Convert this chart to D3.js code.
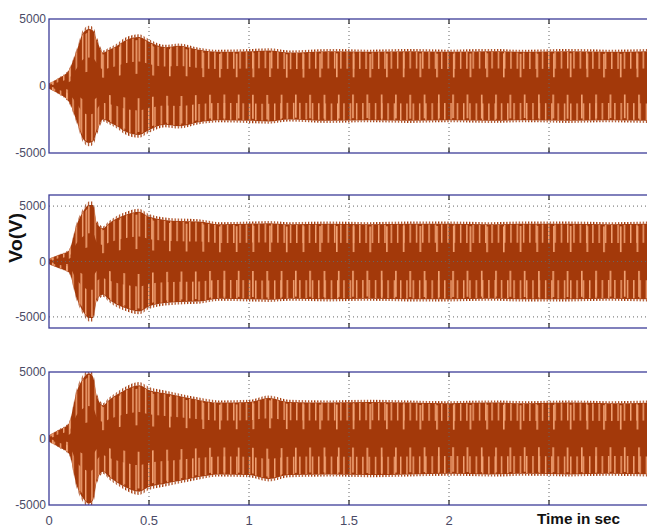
<!DOCTYPE html>
<html>
<head>
<meta charset="utf-8">
<script src="https://cdn.jsdelivr.net/npm/d3@7"></script>
<style>
  body { margin: 0; background: #fff; }
  svg { display: block; }
</style>
</head>
<body>
<div id="chart"></div>
<script>
const times = [0, 0.05, 0.1, 0.14, 0.17, 0.2, 0.22, 0.24, 0.27, 0.3, 0.34, 0.38, 0.45, 0.5, 0.58, 0.65, 0.75, 0.85, 1.0, 1.1, 1.2, 1.4, 1.6, 1.8, 2.0, 2.2, 2.4, 2.6, 2.8, 3.0];
// peak amplitude of Vo (V) for each panel
const env1 = [200, 600, 1200, 2700, 3950, 4250, 4150, 3400, 2500, 2700, 3000, 3400, 3650, 3300, 2900, 3000, 2700, 2550, 2600, 2650, 2500, 2600, 2550, 2600, 2550, 2600, 2550, 2600, 2550, 2600];
const env2 = [250, 600, 1000, 3400, 4500, 5100, 5100, 3450, 3000, 3450, 3900, 4200, 4500, 4050, 3750, 3650, 3600, 3350, 3400, 3450, 3350, 3400, 3350, 3400, 3400, 3350, 3400, 3400, 3350, 3400];
const env3 = [250, 650, 1150, 3600, 4500, 4900, 4650, 3150, 2500, 2900, 3300, 3650, 4000, 3650, 3400, 3200, 2900, 2700, 2750, 3050, 2750, 2700, 2750, 2700, 2650, 2700, 2650, 2700, 2650, 2700];
const xTicks = [0, 0.5, 1, 1.5, 2, 2.5];
const xTickLabels = ["0", "0.5", "1", "1.5", "2", ""];
const yTicks = [-5000, 0, 5000];

const W = 647, H = 528;
const dark = "#a3390a", light = "#f2a476", axisCol = "#3c3c98";

const svg = d3.select("#chart").append("svg")
  .attr("width", W).attr("height", H)
  .style("font-family", "'Liberation Sans Narrow', 'Liberation Sans', Arial, sans-serif");

// streak textures for the aliasing look of the dense oscillation
const defs = svg.append("defs");
function pat(id, w, off, lw, col) {
  const p = defs.append("pattern").attr("id", id)
    .attr("patternUnits", "userSpaceOnUse")
    .attr("width", w).attr("height", 20)
    .attr("patternTransform", "translate(" + off + ",0)");
  p.append("rect").attr("x", 0).attr("y", 0).attr("width", lw).attr("height", 20).attr("fill", col);
}
pat("stA", 6.3, 0, 1.4, light);
pat("stB", 6.3, 3.1, 1.4, light);
pat("stC", 16.7, 2, 1.6, light);
pat("stD", 14.3, 9, 1.6, light);
pat("fr", 3.1, 1, 1.2, dark);

const x = d3.scaleLinear().domain([0, 3]).range([49, 649]);

const panels = [
  { env: env1, dom: [-5000, 5000], range: [153, 19], hgrid: false, xlab: false },
  { env: env2, dom: [-6000, 6000], range: [328, 195], hgrid: true, xlab: false },
  { env: env3, dom: [-5000, 5000], range: [505, 372], hgrid: false, xlab: true }
];

panels.forEach(function (p, i) {
  const y = d3.scaleLinear().domain(p.dom).range(p.range);
  const g = svg.append("g");
  const data = times.map(function (t, k) { return { t: t, a: p.env[k] }; });
  const clipId = "clip" + i;
  defs.append("clipPath").attr("id", clipId).append("rect")
    .attr("x", x(0)).attr("y", p.range[1]).attr("width", x(3) - x(0)).attr("height", p.range[0] - p.range[1]);

  const band = g.append("g").attr("clip-path", "url(#" + clipId + ")");
  function area(lo, hi) {
    return d3.area().curve(d3.curveMonotoneX)
      .x(function (d) { return x(d.t); })
      .y0(function (d) { return y(d.a * lo); })
      .y1(function (d) { return y(d.a * hi); });
  }
  band.append("path").datum(data).attr("d", area(-1, 1)).attr("fill", dark);
  band.append("path").datum(data).attr("d", area(1, 1.06)).attr("fill", "url(#fr)");
  band.append("path").datum(data).attr("d", area(-1.06, -1)).attr("fill", "url(#fr)");
  band.append("path").datum(data).attr("d", area(0.5, 0.98)).attr("fill", "url(#stA)");
  band.append("path").datum(data).attr("d", area(-0.98, -0.5)).attr("fill", "url(#stB)");
  band.append("path").datum(data).attr("d", area(0.25, 0.94)).attr("fill", "url(#stC)");
  band.append("path").datum(data).attr("d", area(-0.94, -0.25)).attr("fill", "url(#stD)");

  // dotted grid
  g.selectAll(".vg").data(xTicks.slice(1)).enter().append("line")
    .attr("x1", function (d) { return x(d); }).attr("x2", function (d) { return x(d); })
    .attr("y1", p.range[1]).attr("y2", p.range[0])
    .attr("stroke", "#666").attr("stroke-width", 1).attr("stroke-dasharray", "1,3");
  if (p.hgrid) {
    g.selectAll(".hg").data(yTicks).enter().append("line")
      .attr("x1", x(0)).attr("x2", W)
      .attr("y1", function (d) { return y(d); }).attr("y2", function (d) { return y(d); })
      .attr("stroke", "#666").attr("stroke-width", 1).attr("stroke-dasharray", "1,3");
  }

  // inward tick marks (top, bottom)
  const tickX = xTicks.slice(1);
  g.selectAll(".tb").data(tickX).enter().append("line")
    .attr("x1", function (d) { return x(d); }).attr("x2", function (d) { return x(d); })
    .attr("y1", p.range[0]).attr("y2", p.range[0] - 5).attr("stroke", "#222").attr("stroke-width", 1.2);
  g.selectAll(".tt").data(tickX).enter().append("line")
    .attr("x1", function (d) { return x(d); }).attr("x2", function (d) { return x(d); })
    .attr("y1", p.range[1]).attr("y2", p.range[1] + 5).attr("stroke", "#222").attr("stroke-width", 1.2);

  // frame
  g.append("rect").attr("x", x(0)).attr("y", p.range[1])
    .attr("width", x(3) - x(0)).attr("height", p.range[0] - p.range[1])
    .attr("fill", "none").attr("stroke", axisCol).attr("stroke-width", 1.3);

  // y tick labels
  g.selectAll(".yl").data(yTicks).enter().append("text")
    .attr("x", 46).attr("y", function (d) { return y(d); })
    .attr("dy", "0.35em").attr("text-anchor", "end")
    .attr("font-size", 12).attr("fill", "#4a4a66")
    .text(function (d) { return d; });

  if (p.xlab) {
    g.selectAll(".xl").data(xTicks).enter().append("text")
      .attr("x", function (d) { return x(d); }).attr("y", p.range[0] + 15)
      .attr("dy", "0.35em").attr("text-anchor", "middle")
      .attr("font-size", 13).attr("fill", "#4a4a66")
      .text(function (d, k) { return xTickLabels[k]; });
  }
});

svg.append("text")
  .attr("x", 537).attr("y", 524)
  .attr("font-family", "'Liberation Sans', Arial, sans-serif")
  .attr("font-weight", "bold").attr("font-size", 15).attr("fill", "#111")
  .attr("textLength", 83).attr("lengthAdjust", "spacingAndGlyphs")
  .text("Time in sec");

svg.append("text")
  .attr("transform", "translate(22,238) rotate(-90)")
  .attr("text-anchor", "middle")
  .attr("font-family", "'Liberation Sans', Arial, sans-serif")
  .attr("font-weight", "bold").attr("font-size", 18).attr("fill", "#111")
  .attr("textLength", 50).attr("lengthAdjust", "spacingAndGlyphs")
  .text("Vo(V)");
</script>
</body>
</html>
